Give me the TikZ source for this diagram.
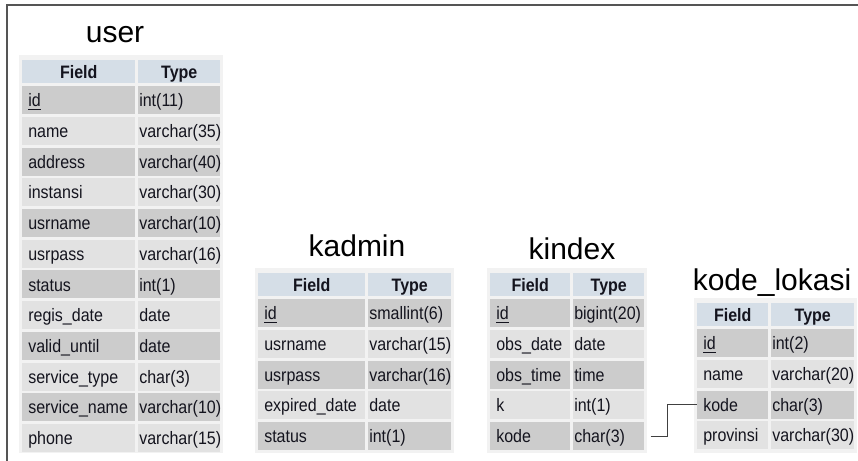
\documentclass[tikz,border=0pt]{standalone}
\usepackage{graphicx}
\usepackage{fontspec}
\setmainfont{Liberation Sans}

\definecolor{headfill}{RGB}{213,222,231}
\definecolor{rowdark}{RGB}{204,204,204}
\definecolor{rowlight}{RGB}{226,226,226}
\definecolor{tablebg}{RGB}{242,242,242}
\definecolor{framegray}{RGB}{85,85,85}
\definecolor{celltext}{RGB}{20,20,30}

\tikzset{
	title/.style={anchor=base, inner sep=0pt, font=\fontsize{22.5}{26}\selectfont},
	headcell/.style={rectangle, anchor=north west, fill=headfill, inner xsep=0pt, inner ysep=0pt,
		minimum height=17.25pt, align=center, text height=12.3pt, text depth=2.5pt,
		text=celltext, font=\fontsize{13.5}{15}\selectfont\bfseries},
	rowcell/.style={rectangle, anchor=north west, inner xsep=0pt, inner ysep=0pt,
		minimum height=21pt, align=left, text height=12.3pt, text depth=2.5pt,
		text=celltext, font=\fontsize{13.5}{15}\selectfont},
	link/.style={draw=black!75, line width=0.75pt}
}

% narrow text, as in the screenshot
\newcommand{\narrow}[1]{\scalebox{0.89}[1]{#1}}

% table: name, x of Field, x of Type, right end, top of header, rows
\newcommand{\dbtable}[6]{%
	\pgfmathsetmacro\fieldw{(#3-#2-3)*0.75}
	\pgfmathsetmacro\typew{(#4-#3)*0.75}
	\fill[tablebg] (#2-3,#5-5) rectangle (#4+3,453);
	\node[headcell, text width=\fieldw pt] (#1-hf) at (#2,#5) {\narrow{Field}};
	\node[headcell, text width=\typew pt] (#1-ht) at (#3,#5) {\narrow{Type}};
	\foreach \fname/\ftype [count=\i] in {#6} {
		\ifodd\i \def\rowcol{rowdark}\else \def\rowcol{rowlight}\fi
		\node[rowcell, fill=\rowcol, text width=\fieldw pt] (#1-\i-f) at (#2,{#5+26+(\i-1)*30.7})
			{\hspace*{4.5pt}\narrow{\fname}};
		\node[rowcell, fill=\rowcol, text width=\typew pt] (#1-\i-t) at (#3,{#5+26+(\i-1)*30.7})
			{\hspace*{0.75pt}\narrow{\ftype}};
	}%
}

\begin{document}
\begin{tikzpicture}[x=0.75pt, y=-0.75pt]
	\useasboundingbox (0,0) rectangle (858,461);
	
	% Frame
	\draw[framegray, line width=1.5pt] (7,461) -- (7,5) -- (858,5);
	
	% Titles
	\node[title] (user) at (115,42) {user};
	\node[title] (kadmin) at (357,256) {kadmin};
	\node[title] (kindex) at (572,259) {kindex};
	\node[title] (lokasi) at (772,290) {kode\_lokasi};
	
	% Tables
	\dbtable{user}{22}{138}{220}{60}{\underline{id}/int(11), name/varchar(35), address/varchar(40),
		instansi/varchar(30), usrname/varchar(10), usrpass/varchar(16), status/int(1),
		regis\_date/date, valid\_until/date, service\_type/char(3),
		service\_name/varchar(10), phone/varchar(15)}
	\dbtable{kadmin}{258}{368}{451}{273}{\underline{id}/smallint(6), usrname/varchar(15),
		usrpass/varchar(16), expired\_date/date, status/int(1)}
	\dbtable{kindex}{490}{573}{644}{273}{\underline{id}/bigint(20), obs\_date/date,
		obs\_time/time, k/int(1), kode/char(3)}
	\dbtable{lokasi}{697}{771}{854}{303}{\underline{id}/int(2), name/varchar(20),
		kode/char(3), provinsi/varchar(30)}
	
	% Relation
	\draw[link] ([xshift=4.5pt]kindex-5-t.east) -- ++(17,0) |- (lokasi-3-f.west);
\end{tikzpicture}
\end{document}
